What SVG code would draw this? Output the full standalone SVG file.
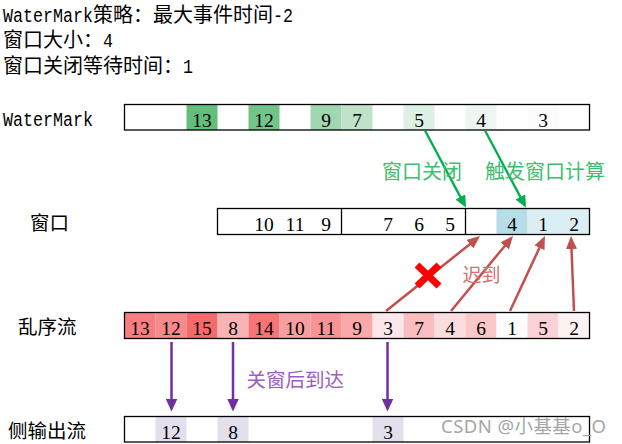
<svg xmlns="http://www.w3.org/2000/svg" width="622" height="444" viewBox="0 0 622 444">
<style>
.cjk{font-family:"Noto Sans CJK SC","Noto Sans CJK JP",sans-serif}
.mono{font-family:"Liberation Mono","DejaVu Sans Mono",monospace}
.num{font-family:"Liberation Serif","DejaVu Serif",serif;font-size:19.5px;text-anchor:middle;fill:#000}
.box{fill:none;stroke:#000;stroke-width:1.3}
.div{stroke:#000;stroke-width:1.3}
.g{stroke:#00B050;stroke-width:2.3;fill:none}
.r{stroke:#C0504D;stroke-width:2.5;fill:none}
.p{stroke:#7030A0;stroke-width:2.5;fill:none}
</style>
<defs>
<marker id="ag" viewBox="0 0 12 11" refX="9" refY="5.5" markerWidth="12" markerHeight="11" markerUnits="userSpaceOnUse" orient="auto"><path d="M0,0 L12,5.5 L0,11 z" fill="#00B050"/></marker>
<marker id="ar" viewBox="0 0 13 11" refX="10" refY="5.5" markerWidth="13" markerHeight="11" markerUnits="userSpaceOnUse" orient="auto"><path d="M0,0 L13,5.5 L0,11 z" fill="#C0504D"/></marker>
<marker id="ap" viewBox="0 0 13 12" refX="10" refY="6" markerWidth="13" markerHeight="12" markerUnits="userSpaceOnUse" orient="auto"><path d="M0,0 L13,6 L0,12 z" fill="#7030A0"/></marker>
</defs>
<rect width="622" height="444" fill="#fff"/>

<g id="header">
<text font-size="20"><tspan class="mono" x="3" y="22" textLength="90" lengthAdjust="spacingAndGlyphs">WaterMark</tspan><tspan class="cjk" x="93" y="22">策略：最大事件时间</tspan><tspan class="mono" x="273" y="22" textLength="20" lengthAdjust="spacingAndGlyphs">-2</tspan><tspan class="cjk" x="3" y="47">窗口大小：</tspan><tspan class="mono" x="103" y="47" textLength="10" lengthAdjust="spacingAndGlyphs">4</tspan><tspan class="cjk" x="3" y="72.5">窗口关闭等待时间：</tspan><tspan class="mono" x="183" y="72.5" textLength="10" lengthAdjust="spacingAndGlyphs">1</tspan></text>
</g>

<g id="watermark-row">
<text class="mono" x="3" y="125.5" font-size="20" textLength="90" lengthAdjust="spacingAndGlyphs">WaterMark</text>
<rect x="186.5" y="104.5" width="31" height="25.5" fill="#63BE7B"/>
<rect x="248.5" y="104.5" width="31" height="25.5" fill="#72C488"/>
<rect x="310.5" y="104.5" width="31" height="25.5" fill="#A0D7B0"/>
<rect x="341.5" y="104.5" width="31" height="25.5" fill="#BFE3CA"/>
<rect x="403.5" y="104.5" width="31" height="25.5" fill="#DDF0E5"/>
<rect x="465.5" y="104.5" width="31" height="25.5" fill="#EDF6F2"/>
<rect x="527.5" y="104.5" width="31" height="25.5" fill="#FCFCFF"/>
<rect class="box" x="124.5" y="104.5" width="465" height="25.5"/>
<text class="num" x="202" y="126.5">13</text>
<text class="num" x="264" y="126.5">12</text>
<text class="num" x="326" y="126.5">9</text>
<text class="num" x="357" y="126.5">7</text>
<text class="num" x="419" y="126.5">5</text>
<text class="num" x="481" y="126.5">4</text>
<text class="num" x="543" y="126.5">3</text>
</g>

<g id="window-row">
<text class="cjk" x="30" y="229.5" font-size="19.5">窗口</text>
<rect x="496.5" y="208.5" width="31" height="26" fill="#B7DDE8"/>
<rect x="527.5" y="208.5" width="62" height="26" fill="#DAEEF3"/>
<rect class="box" x="217.5" y="208.5" width="372" height="26"/>
<line class="div" x1="341.5" y1="208.5" x2="341.5" y2="234.5"/>
<line class="div" x1="465.5" y1="208.5" x2="465.5" y2="234.5"/>
<text class="num" x="264" y="230.5">10</text>
<text class="num" x="295" y="230.5">11</text>
<text class="num" x="326" y="230.5">9</text>
<text class="num" x="388" y="230.5">7</text>
<text class="num" x="419" y="230.5">6</text>
<text class="num" x="450" y="230.5">5</text>
<text class="num" x="512" y="230.5">4</text>
<text class="num" x="543" y="230.5">1</text>
<text class="num" x="574" y="230.5">2</text>
</g>

<g id="stream-row">
<text class="cjk" x="18" y="333.5" font-size="19.5">乱序流</text>
<rect x="124.5" y="312.5" width="31" height="26" fill="#F97E80"/>
<rect x="155.5" y="312.5" width="31" height="26" fill="#F9898B"/>
<rect x="186.5" y="312.5" width="31" height="26" fill="#F8696B"/>
<rect x="217.5" y="312.5" width="31" height="26" fill="#FAB3B5"/>
<rect x="248.5" y="312.5" width="31" height="26" fill="#F87476"/>
<rect x="279.5" y="312.5" width="31" height="26" fill="#F99EA0"/>
<rect x="310.5" y="312.5" width="31" height="26" fill="#F99395"/>
<rect x="341.5" y="312.5" width="31" height="26" fill="#FAA8AA"/>
<rect x="372.5" y="312.5" width="31" height="26" fill="#FBE7EA"/>
<rect x="403.5" y="312.5" width="31" height="26" fill="#FABDC0"/>
<rect x="434.5" y="312.5" width="31" height="26" fill="#FBDCDF"/>
<rect x="465.5" y="312.5" width="31" height="26" fill="#FBC8CA"/>
<rect x="496.5" y="312.5" width="31" height="26" fill="#FCFCFF"/>
<rect x="527.5" y="312.5" width="31" height="26" fill="#FBD2D5"/>
<rect x="558.5" y="312.5" width="31" height="26" fill="#FCF2F4"/>
<rect class="box" x="124.5" y="312.5" width="465" height="26"/>
<text class="num" x="140" y="335">13</text>
<text class="num" x="171" y="335">12</text>
<text class="num" x="202" y="335">15</text>
<text class="num" x="233" y="335">8</text>
<text class="num" x="264" y="335">14</text>
<text class="num" x="295" y="335">10</text>
<text class="num" x="326" y="335">11</text>
<text class="num" x="357" y="335">9</text>
<text class="num" x="388" y="335">3</text>
<text class="num" x="419" y="335">7</text>
<text class="num" x="450" y="335">4</text>
<text class="num" x="481" y="335">6</text>
<text class="num" x="512" y="335">1</text>
<text class="num" x="543" y="335">5</text>
<text class="num" x="574" y="335">2</text>
</g>

<g id="side-row">
<text class="cjk" x="8" y="438" font-size="19.5">侧输出流</text>
<rect x="155.5" y="416.5" width="31" height="25.5" fill="#E4DFEC"/>
<rect x="217.5" y="416.5" width="31" height="25.5" fill="#E4DFEC"/>
<rect x="372.5" y="416.5" width="31" height="25.5" fill="#E4DFEC"/>
<rect class="box" x="124.5" y="416.5" width="465" height="25.5"/>
<text class="num" x="171" y="439">12</text>
<text class="num" x="233" y="439">8</text>
<text class="num" x="388" y="439">3</text>
</g>

<g id="connectors">
<line class="g" x1="425" y1="130.5" x2="464.6" y2="204.9" marker-end="url(#ag)"/>
<line class="g" x1="485" y1="130.5" x2="524.6" y2="204.9" marker-end="url(#ag)"/>
<line class="r" x1="386" y1="311" x2="477.7" y2="237.9" marker-end="url(#ar)"/>
<line class="r" x1="451" y1="311" x2="511.1" y2="238.3" marker-end="url(#ar)"/>
<line class="r" x1="510" y1="311" x2="543.7" y2="238.7" marker-end="url(#ar)"/>
<line class="r" x1="574" y1="311" x2="571.1" y2="239" marker-end="url(#ar)"/>
<line class="p" x1="171.5" y1="342" x2="171.5" y2="408.5" marker-end="url(#ap)"/>
<line class="p" x1="233" y1="342" x2="233" y2="408.5" marker-end="url(#ap)"/>
<line class="p" x1="387.5" y1="342" x2="387.5" y2="408.5" marker-end="url(#ap)"/>
</g>

<g id="labels">
<text class="cjk" x="382" y="178.5" font-size="20" fill="#3DBE6E">窗口关闭</text>
<text class="cjk" x="485" y="178.5" font-size="20" fill="#3DBE6E">触发窗口计算</text>
<text class="cjk" x="462.5" y="282" font-size="19" fill="#D9706E">迟到</text>
<text class="cjk" x="246.5" y="386.5" font-size="19.5" fill="#9A5CC6">关窗后到达</text>
</g>

<g id="reject-mark" stroke="#FF0000" stroke-width="7">
<line x1="417" y1="265" x2="439" y2="286"/>
<line x1="439" y1="265" x2="417" y2="286"/>
</g>

<text x="441" y="433" font-family="'Noto Sans','Noto Sans CJK SC',sans-serif" font-size="18.5" fill="#A6A6A6" textLength="165" lengthAdjust="spacing">CSDN @小基基o_O</text>
</svg>
